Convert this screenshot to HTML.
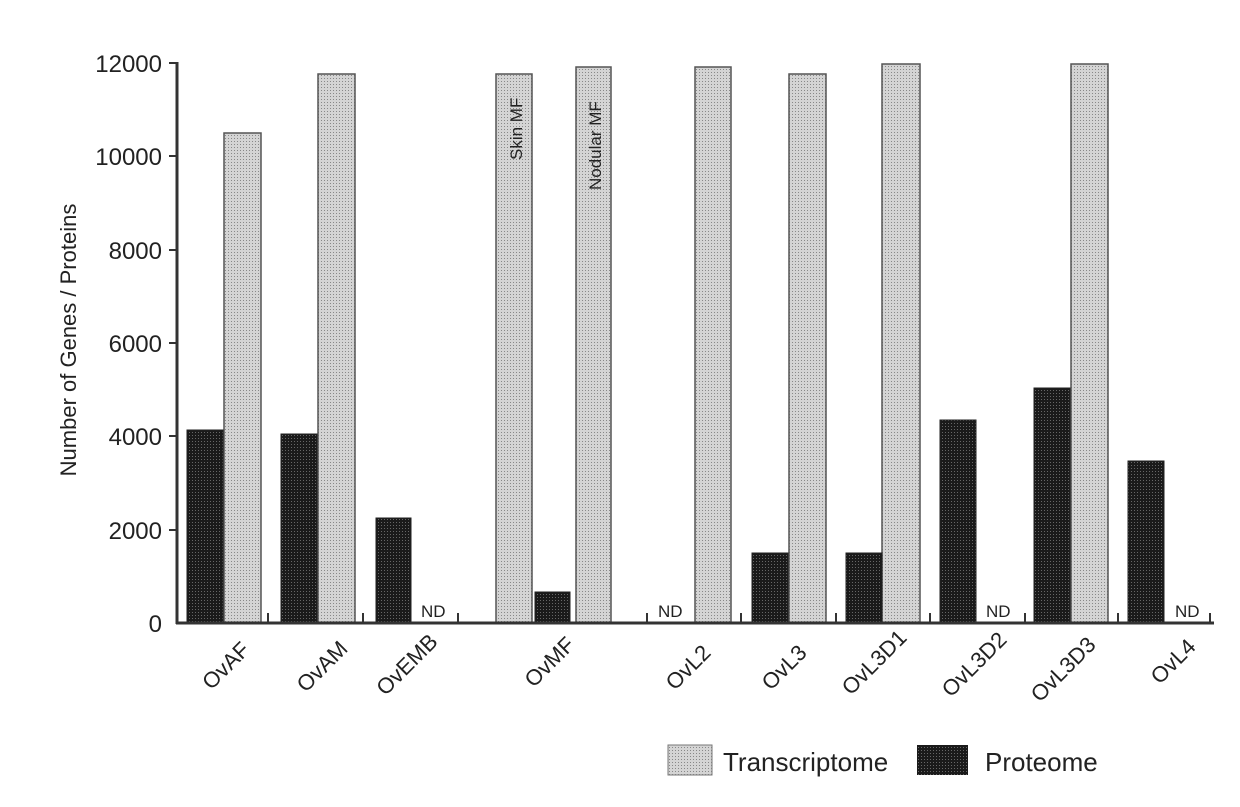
<!DOCTYPE html>
<html><head><meta charset="utf-8"><style>
html,body{margin:0;padding:0;background:#fff;}
svg text{font-family:"Liberation Sans",sans-serif;fill:#222;}
</style></head><body>
<svg width="1240" height="802" viewBox="0 0 1240 802" xmlns="http://www.w3.org/2000/svg">
<defs>
<pattern id="g" width="3" height="3" patternUnits="userSpaceOnUse">
<rect width="3" height="3" fill="#d4d4d4"/><rect width="1" height="1" fill="#888"/>
</pattern>
<pattern id="k" width="3" height="3" patternUnits="userSpaceOnUse">
<rect width="3" height="3" fill="#1a1a1a"/><rect width="1" height="1" fill="#666"/>
</pattern>
</defs>
<g stroke="#555" stroke-width="1.5">
<rect x="224" y="133" width="37" height="490" fill="url(#g)"/>
<rect x="318" y="74" width="37" height="549" fill="url(#g)"/>
<rect x="496" y="74" width="36" height="549" fill="url(#g)"/>
<rect x="576" y="67" width="35" height="556" fill="url(#g)"/>
<rect x="695" y="67" width="36" height="556" fill="url(#g)"/>
<rect x="789" y="74" width="37" height="549" fill="url(#g)"/>
<rect x="882" y="64" width="38" height="559" fill="url(#g)"/>
<rect x="1071" y="64" width="37" height="559" fill="url(#g)"/>
</g>
<g fill="url(#k)" stroke="#222" stroke-width="1">
<rect x="187" y="430" width="36" height="193"/>
<rect x="281" y="434" width="36" height="189"/>
<rect x="376" y="518" width="35" height="105"/>
<rect x="535" y="592" width="35" height="31"/>
<rect x="752" y="553" width="36" height="70"/>
<rect x="846" y="553" width="36" height="70"/>
<rect x="940" y="420" width="36" height="203"/>
<rect x="1034" y="388" width="36" height="235"/>
<rect x="1128" y="461" width="36" height="162"/>
</g>
<g stroke="#333" stroke-width="3" fill="none">
<line x1="177" y1="62" x2="177" y2="624"/>
<line x1="176" y1="623" x2="1214" y2="623"/>
</g>
<g stroke="#333" stroke-width="2">
<line x1="169" y1="63" x2="177" y2="63"/><line x1="169" y1="156" x2="177" y2="156"/>
<line x1="169" y1="250" x2="177" y2="250"/><line x1="169" y1="343" x2="177" y2="343"/>
<line x1="169" y1="436" x2="177" y2="436"/><line x1="169" y1="530" x2="177" y2="530"/>
<line x1="268" y1="613" x2="268" y2="623"/><line x1="363" y1="613" x2="363" y2="623"/>
<line x1="458" y1="613" x2="458" y2="623"/><line x1="647" y1="613" x2="647" y2="623"/>
<line x1="741" y1="613" x2="741" y2="623"/><line x1="836" y1="613" x2="836" y2="623"/>
<line x1="930" y1="613" x2="930" y2="623"/><line x1="1025" y1="613" x2="1025" y2="623"/>
<line x1="1118" y1="613" x2="1118" y2="623"/><line x1="1210" y1="613" x2="1210" y2="623"/>
</g>
<g font-size="24" text-anchor="end">
<text x="162" y="72">12000</text><text x="162" y="165">10000</text>
<text x="162" y="259">8000</text><text x="162" y="352">6000</text>
<text x="162" y="445">4000</text><text x="162" y="539">2000</text>
<text x="162" y="632">0</text>
</g>
<text transform="translate(76,340) rotate(-90)" font-size="22" text-anchor="middle">Number of Genes / Proteins</text>
<g font-size="17">
<text x="421" y="617">ND</text><text x="658" y="617">ND</text>
<text x="986" y="617">ND</text><text x="1175" y="617">ND</text>
</g>
<text transform="translate(522,160) rotate(-90)" font-size="17">Skin MF</text>
<text transform="translate(601,190) rotate(-90)" font-size="17">Nodular MF</text>
<g font-size="22" text-anchor="end">
<text transform="translate(251,651) rotate(-45)">OvAF</text>
<text transform="translate(349,650) rotate(-45)">OvAM</text>
<text transform="translate(439,643) rotate(-45)">OvEMB</text>
<text transform="translate(576,646) rotate(-45)">OvMF</text>
<text transform="translate(712,654) rotate(-45)">OvL2</text>
<text transform="translate(808,654) rotate(-45)">OvL3</text>
<text transform="translate(908,639) rotate(-45)">OvL3D1</text>
<text transform="translate(1008,641) rotate(-45)">OvL3D2</text>
<text transform="translate(1097,646) rotate(-45)">OvL3D3</text>
<text transform="translate(1197,648) rotate(-45)">OvL4</text>
</g>
<rect x="668" y="745" width="44" height="30" fill="url(#g)" stroke="#777"/>
<text x="723" y="771" font-size="26">Transcriptome</text>
<rect x="917" y="745" width="51" height="30" fill="url(#k)"/>
<text x="985" y="771" font-size="26">Proteome</text>
</svg>
</body></html>
